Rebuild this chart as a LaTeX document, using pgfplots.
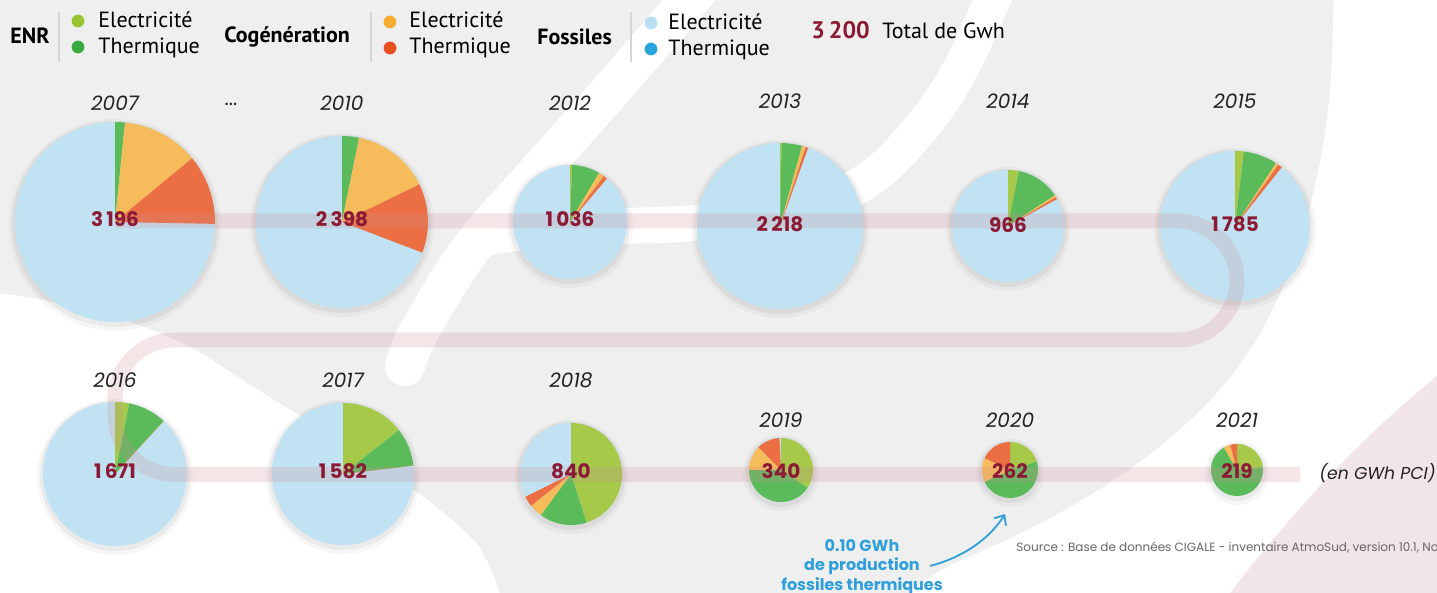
\documentclass[border=0pt]{standalone}
\usepackage{fontspec}
\setmainfont{Poppins}
\newfontfamily\legfont{PT Sans}
\usepackage{pgfplots}
\usepackage{pgfplotstable}
\pgfplotsset{compat=1.18}
\usetikzlibrary{arrows.meta}

\definecolor{bggray}{HTML}{EFEFEF}
\definecolor{pinkbg}{HTML}{F1E5E8}
\definecolor{band}{RGB}{205,140,150}
\definecolor{enrE}{HTML}{A6C94A}
\definecolor{enrT}{HTML}{5BBB5B}
\definecolor{cogE}{HTML}{F6BC5B}
\definecolor{cogT}{HTML}{EB6F43}
\definecolor{fosE}{HTML}{C1E2F2}
\definecolor{legEnrE}{HTML}{9AC531}
\definecolor{legEnrT}{HTML}{3AA93F}
\definecolor{legCogE}{HTML}{F8AD30}
\definecolor{legCogT}{HTML}{E9501F}
\definecolor{legFosE}{HTML}{B8E0F3}
\definecolor{legFosT}{HTML}{2AA4DE}
\definecolor{totred}{HTML}{8B1A35}
\definecolor{annot}{HTML}{2F9FDB}
\definecolor{yeartxt}{HTML}{222222}
\definecolor{divider}{HTML}{D6D6D6}

% pie centre / radius / label rows in pixels, shares in % of the year's total
% (clockwise from 12 o'clock); what is left is fossil electricity
\pgfplotstableread{
year cx   cy  r   ly  ny  total enrE enrT cogE cogT
2007 115  222 100 103 219 3196  0    1.6  12.4 11.3
2010 342  222 86  103 219 2398  0    3.2  14.6 13.0
2012 570  222 57  103 219 1036  0.6  7.9  1.6  1.1
2013 780  226 83  101 224 2218  0.3  4.0  0.7  0.5
2014 1008 226 56  101 225 966   3.1  12.7 0.6  0.6
2015 1235 226 75  101 224 1785  1.9  7.3  0.6  0.9
2016 115  474 72  380 471 1671  3.2  8.6  0    0
2017 343  474 71  380 471 1582  14.4 8.7  0    0
2018 571  474 51  380 471 840   45.1 15.0 4.2  3.3
2019 781  470 32  420 471 340   34.4 40.6 12.5 11.7
2020 1010 470 28  420 471 262   20.3 47.8 13.9 18.0
2021 1237 470 26  420 471 219   23.5 68.1 4.2  4.2
}\pies

\newcommand\yearstyle{\fontsize{10}{12}\selectfont\itshape}
\newcommand\numstyle{\fontsize{10}{12}\selectfont\bfseries}

\newcommand\drawpie[1]{%
  \pgfplotstablegetelem{#1}{cx}\of\pies\let\pcx\pgfplotsretval
  \pgfplotstablegetelem{#1}{cy}\of\pies\let\pcy\pgfplotsretval
  \pgfplotstablegetelem{#1}{r}\of\pies\pgfmathsetmacro\rr{0.5*\pgfplotsretval}%
  \pgfmathsetmacro\rsa{\rr+3}\pgfmathsetmacro\rsb{\rr+1.5}%
  \pgfplotstablegetelem{#1}{enrE}\of\pies\pgfmathsetmacro\sA{90-3.6*\pgfplotsretval}%
  \pgfplotstablegetelem{#1}{enrT}\of\pies\pgfmathsetmacro\sB{\sA-3.6*\pgfplotsretval}%
  \pgfplotstablegetelem{#1}{cogE}\of\pies\pgfmathsetmacro\sC{\sB-3.6*\pgfplotsretval}%
  \pgfplotstablegetelem{#1}{cogT}\of\pies\pgfmathsetmacro\sD{\sC-3.6*\pgfplotsretval}%
  \edef\doit{%
    \noexpand\fill[black,opacity=0.03] (axis cs:\pcx,\pcy) ++(0pt,-1.5pt) circle[radius=\rsa pt];
    \noexpand\fill[black,opacity=0.05] (axis cs:\pcx,\pcy) ++(0pt,-1pt) circle[radius=\rsb pt];
    \noexpand\fill[fosE] (axis cs:\pcx,\pcy) circle[radius=\rr pt];
    \noexpand\fill[enrE] (axis cs:\pcx,\pcy) -- ++(90:\rr pt) arc[start angle=90,end angle=\sA,radius=\rr pt] -- cycle;
    \noexpand\fill[enrT] (axis cs:\pcx,\pcy) -- ++(\sA:\rr pt) arc[start angle=\sA,end angle=\sB,radius=\rr pt] -- cycle;
    \noexpand\fill[cogE] (axis cs:\pcx,\pcy) -- ++(\sB:\rr pt) arc[start angle=\sB,end angle=\sC,radius=\rr pt] -- cycle;
    \noexpand\fill[cogT] (axis cs:\pcx,\pcy) -- ++(\sC:\rr pt) arc[start angle=\sC,end angle=\sD,radius=\rr pt] -- cycle;
  }\doit
}

\newcommand\labelpie[1]{%
  \pgfplotstablegetelem{#1}{cx}\of\pies\let\pcx\pgfplotsretval
  \pgfplotstablegetelem{#1}{ly}\of\pies\let\ply\pgfplotsretval
  \pgfplotstablegetelem{#1}{ny}\of\pies\let\pny\pgfplotsretval
  \pgfplotstablegetelem{#1}{year}\of\pies\let\pyear\pgfplotsretval
  \pgfplotstablegetelem{#1}{total}\of\pies\let\ptot\pgfplotsretval
  \edef\doit{%
    \noexpand\node[font=\noexpand\yearstyle, text=yeartxt, inner sep=0pt] at (axis cs:\pcx,\ply) {\pyear};
    \noexpand\node[font=\noexpand\numstyle, text=totred, inner sep=0pt] at (axis cs:\pcx,\pny)
      {\noexpand\pgfmathprintnumber[assume math mode=true,1000 sep={\noexpand\,}]{\ptot}};
  }\doit
}

\begin{document}
\begin{tikzpicture}
\begin{axis}[
  x=0.5pt, y=0.5pt,
  xmin=0, xmax=1437, ymin=0, ymax=593,
  y dir=reverse,
  hide axis, clip=true,
]
% background and watermark
\fill[white] (axis cs:0,0) rectangle (axis cs:1437,593);
\fill[bggray] (axis cs:-10,-10) -- (axis cs:1334,-10) -- (axis cs:1332,60)
  .. controls (axis cs:1326,180) and (axis cs:1292,290) .. (axis cs:1243,360)
  .. controls (axis cs:1180,450) and (axis cs:1060,520) .. (axis cs:960,560)
  .. controls (axis cs:925,578) and (axis cs:905,595) .. (axis cs:895,610)
  -- (axis cs:505,610)
  .. controls (axis cs:498,585) and (axis cs:490,565) .. (axis cs:480,547)
  .. controls (axis cs:420,480) and (axis cs:300,420) .. (axis cs:213,360)
  .. controls (axis cs:150,320) and (axis cs:60,300) .. (axis cs:-10,292) -- cycle;
\draw[white, line width=20pt, line cap=round] plot[smooth, tension=0.6] coordinates {
  (715,-30) (620,80) (540,170) (470,250) (420,330) (405,366)};
\draw[white, line width=18pt] plot[smooth, tension=0.6] coordinates {
  (1005,-30) (960,70) (915,135) (860,185) (780,214) (680,224) (560,228) (470,240)};
\fill[pinkbg] (axis cs:1225,600) .. controls (axis cs:1300,500) and (axis cs:1380,420)
  .. (axis cs:1445,370) -- (axis cs:1445,600) -- cycle;

% pies
\pgfplotsinvokeforeach{0,...,11}{\drawpie{#1}}

% connecting band
\addplot[draw=band, draw opacity=0.22, line width=7.5pt, rounded corners=29.75pt, no markers]
  coordinates {(115,221) (1237,221) (1237,340) (115,340) (115,474.5) (1300,474.5)};

% labels
\pgfplotsinvokeforeach{0,...,11}{\labelpie{#1}}
\node[font=\fontsize{10}{12}\selectfont, text=yeartxt] at (axis cs:231,104) {...};
\node[anchor=east, font=\fontsize{8.6}{10}\selectfont\itshape, text=yeartxt, inner sep=0pt] at (axis cs:1436,473) {(en GWh PCI)};

% legend
\draw[divider, line width=0.6pt] (axis cs:59,12) -- (axis cs:59,62);
\draw[divider, line width=0.6pt] (axis cs:371,12) -- (axis cs:371,62);
\draw[divider, line width=0.6pt] (axis cs:631,12) -- (axis cs:631,62);
\node[anchor=base west, inner sep=0pt, font=\legfont\bfseries\fontsize{11}{13}\selectfont] at (axis cs:10,44) {ENR};
\node[anchor=base west, inner sep=0pt, font=\legfont\bfseries\fontsize{11}{13}\selectfont] at (axis cs:224,43) {Cogénération};
\node[anchor=base west, inner sep=0pt, font=\legfont\bfseries\fontsize{11}{13}\selectfont] at (axis cs:537,45) {Fossiles};
\fill[legEnrE] (axis cs:78,21) circle[radius=3.2pt];
\fill[legEnrT] (axis cs:78,47) circle[radius=3.2pt];
\fill[legCogE] (axis cs:390,22) circle[radius=3.2pt];
\fill[legCogT] (axis cs:390,48) circle[radius=3.2pt];
\fill[legFosE] (axis cs:651,23) circle[radius=3.2pt];
\fill[legFosT] (axis cs:651,49) circle[radius=3.2pt];
\node[anchor=base west, inner sep=0pt, font=\legfont\fontsize{11}{13}\selectfont] at (axis cs:98,28) {Electricité};
\node[anchor=base west, inner sep=0pt, font=\legfont\fontsize{11}{13}\selectfont] at (axis cs:98,54) {Thermique};
\node[anchor=base west, inner sep=0pt, font=\legfont\fontsize{11}{13}\selectfont] at (axis cs:409,28) {Electricité};
\node[anchor=base west, inner sep=0pt, font=\legfont\fontsize{11}{13}\selectfont] at (axis cs:409,54) {Thermique};
\node[anchor=base west, inner sep=0pt, font=\legfont\fontsize{11}{13}\selectfont] at (axis cs:668,30) {Electricité};
\node[anchor=base west, inner sep=0pt, font=\legfont\fontsize{11}{13}\selectfont] at (axis cs:668,56) {Thermique};
\node[anchor=base west, inner sep=0pt, text=totred, font=\legfont\bfseries\fontsize{12}{14}\selectfont] at (axis cs:811,39) {3\,200};
\node[anchor=base west, inner sep=0pt, font=\legfont\fontsize{11}{13}\selectfont] at (axis cs:882,39) {Total de Gwh};

% annotation and source
\node[align=center, inner sep=0pt, text=annot, font={\fontsize{8}{9.6}\selectfont\bfseries}] at (axis cs:862,567)
  {0.10 GWh\\de production\\fossiles thermiques};
\draw[annot, line width=0.9pt, -{Straight Barb[length=4pt,width=7pt]}]
  (axis cs:930,566) .. controls (axis cs:968,556) and (axis cs:992,535) .. (axis cs:1005,514);
\node[anchor=west, inner sep=0pt, text=black!60, font=\fontsize{6}{7}\selectfont] at (axis cs:1016,548)
  {Source : Base de données CIGALE - inventaire AtmoSud, version 10.1, Novembre 2022};

\coordinate (bbA) at (axis cs:0,0);
\coordinate (bbB) at (axis cs:1437,593);
\end{axis}
\pgfresetboundingbox
\path[use as bounding box] (bbA) rectangle (bbB);
\end{tikzpicture}
\end{document}
